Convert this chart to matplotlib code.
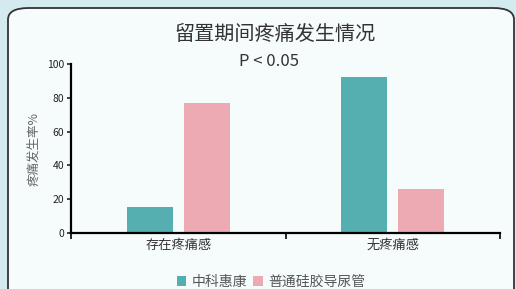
import matplotlib
matplotlib.use("Agg")
import matplotlib.pyplot as plt
from matplotlib.patches import FancyBboxPatch, Patch
import numpy as np

plt.rcParams['font.family'] = ['Noto Sans CJK SC', 'DejaVu Sans']

categories = ["存在疼痛感", "无疼痛感"]
series_names = ["中科惠康", "普通硅胶导尿管"]
zkhk = [15.5, 92.5]
ptgj = [77, 26]
colors = ["#55aeb0", "#eeaab3"]

fig = plt.figure(figsize=(5.16, 2.89), dpi=100)
fig.patch.set_facecolor("#d3eaf1")

# rounded panel
panel = FancyBboxPatch((8 / 516, -0.2), 506 / 516, 1 - 8 / 289 + 0.2,
                       boxstyle="round,pad=0,rounding_size=0.04",
                       transform=fig.transFigure, facecolor="#f6fcfc",
                       edgecolor="#333333", linewidth=1.3, zorder=-5)
fig.patches.append(panel)

ax = fig.add_axes([71 / 516, 1 - 233 / 289, 429 / 516, 169 / 289])
ax.set_facecolor("none")
ax.set_zorder(2)

x = np.arange(len(categories))
w = 0.214
off = 0.133
ax.bar(x - off, zkhk, w, color=colors[0], zorder=2)
ax.bar(x + off, ptgj, w, color=colors[1], zorder=2)

ax.set_xlim(-0.5, 1.5)
ax.set_ylim(0, 100)
ax.set_yticks([0, 20, 40, 60, 80, 100])
ax.set_xticks(x)
ax.set_xticklabels(categories, fontsize=9.5, color="#333333")
ax.set_xticks([-0.5, 0.5, 1.5], minor=True)
ax.tick_params(axis="x", which="major", length=0, pad=4)
ax.tick_params(axis="x", which="minor", length=4, width=1.2)
ax.tick_params(axis="y", length=3, width=1.2, labelsize=7.5, colors="#222222", pad=2)
for s in ["top", "right"]:
    ax.spines[s].set_visible(False)
ax.spines["left"].set_linewidth(1.6)
ax.spines["bottom"].set_linewidth(1.6)
ax.set_ylabel("疼痛发生率%", fontsize=9, color="#666666", labelpad=5)

fig.text(0.533, 1 - 35 / 289, "留置期间疼痛发生情况", ha="center", va="center",
         fontsize=14.5, color="#333333")
fig.text(0.521, 1 - 61 / 289, "P < 0.05", ha="center", va="center",
         fontsize=12, color="#333333")

handles = [Patch(facecolor=c) for c in colors]
fig.legend(handles, series_names, loc="center", bbox_to_anchor=(0.525, 1 - 282 / 289),
           ncol=2, frameon=False, fontsize=10, handlelength=0.7, handleheight=0.7,
           handletextpad=0.4, columnspacing=0.4, labelcolor="#555555",
           borderpad=0, borderaxespad=0)

fig.savefig("out.png", dpi=100, facecolor=fig.get_facecolor())
